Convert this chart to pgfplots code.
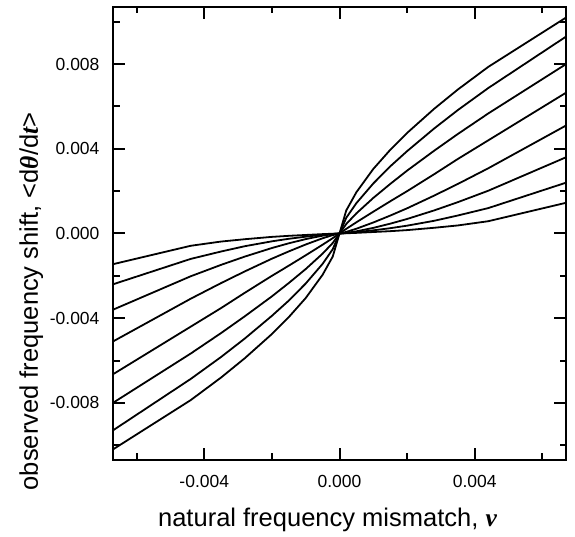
\documentclass[border=0pt]{standalone}
\usepackage{pgfplots}
\usepackage{pgfplotstable}
\pgfplotsset{compat=1.18}
\usepackage{fontspec}
\setmainfont{Liberation Sans}
\newfontfamily\seriffont{Liberation Serif}
\newcommand{\sbi}[1]{{\seriffont\bfseries\itshape #1}}

\pgfplotstableread{
x        y1        y2        y3        y4        y5         y6         y7        y8
-0.0067  -0.0102   -0.0093   -0.0080   -0.00665  -0.0051    -0.0036    -0.0024   -0.00145
-0.0044  -0.00787  -0.00687  -0.00567  -0.0044   -0.00308   -0.00202   -0.0012   -0.00058
-0.0035  -0.0068   -0.00583  -0.0047   -0.00352  -0.00234   -0.00148   -0.00085  -0.00038
-0.0028  -0.00589  -0.00496  -0.00391  -0.0028   -0.00179   -0.00109   -0.0006   -0.00027
-0.0020  -0.00475  -0.00389  -0.00297  -0.0020   -0.00119   -0.000686  -0.00037  -0.00016
-0.0015  -0.00395  -0.00317  -0.00234  -0.00152  -0.000846  -0.000463  -0.00025  -0.00011
-0.0010  -0.00305  -0.002364 -0.00168  -0.00103  -0.00052   -0.000265  -0.00015  -0.00007
-0.0005  -0.00195  -0.001435 -0.000952 -0.00053  -0.000226  -0.000103  -0.00006  -0.00003
-0.0002  -0.00109  -0.000742 -0.000449 -0.00022  -0.000075  -0.000029  -0.00002  -0.00001
0        0         0         0         0         0          0          0         0
0.0002   0.00109   0.000742  0.000449  0.00022   0.000075   0.000029   0.00002   0.00001
0.0005   0.00195   0.001435  0.000952  0.00053   0.000226   0.000103   0.00006   0.00003
0.0010   0.00305   0.002364  0.00168   0.00103   0.00052    0.000265   0.00015   0.00007
0.0015   0.00395   0.00317   0.00234   0.00152   0.000846   0.000463   0.00025   0.00011
0.0020   0.00475   0.00389   0.00297   0.0020    0.00119    0.000686   0.00037   0.00016
0.0028   0.00589   0.00496   0.00391   0.0028    0.00179    0.00109    0.0006    0.00027
0.0035   0.0068    0.00583   0.0047    0.00352   0.00234    0.00148    0.00085   0.00038
0.0044   0.00787   0.00687   0.00567   0.0044    0.00308    0.00202    0.0012    0.00058
0.0067   0.0102    0.0093    0.0080    0.00665   0.0051     0.0036     0.0024    0.00145
}\curves

\begin{document}
\begin{tikzpicture}[x=1pt,y=1pt]
\path (0,0) rectangle (575,537);
\begin{axis}[
  at={(113pt,77pt)}, anchor=south west,
  scale only axis, width=453pt, height=453pt,
  xmin=-0.0067, xmax=0.0067, ymin=-0.0107, ymax=0.0107,
  xtick={-0.004,0,0.004}, minor xtick={-0.006,-0.002,0.002,0.006},
  ytick={-0.008,-0.004,0,0.004,0.008},
  minor ytick={-0.010,-0.006,-0.002,0.002,0.006,0.010},
  xticklabels={-0.004,0.000,0.004},
  yticklabels={-0.008,-0.004,0.000,0.004,0.008},
  scaled ticks=false,
  tick align=inside,
  major tick length=12pt, minor tick length=6.5pt,
  every tick/.style={line width=2pt, black},
  axis line style={line width=2.5pt},
  ticklabel style={font=\fontsize{17.5}{20}\selectfont},
  xticklabel style={yshift=-12pt},
  yticklabel style={xshift=-10pt},
  xlabel={natural frequency mismatch, \sbi{ν}},
  ylabel={observed frequency shift, <d\sbi{θ}/d\sbi{t}>},
  label style={font=\fontsize{25.5}{30}\selectfont},
  xlabel style={at={(axis description cs:0.4735,-0.1457)}, anchor=base},
  ylabel style={at={(axis description cs:-0.1656,0.35)}, anchor=base},
]
\addplot[black, line width=1.8pt, no marks] table[x=x, y=y1] {\curves};
\addplot[black, line width=1.8pt, no marks] table[x=x, y=y2] {\curves};
\addplot[black, line width=1.8pt, no marks] table[x=x, y=y3] {\curves};
\addplot[black, line width=1.8pt, no marks] table[x=x, y=y4] {\curves};
\addplot[black, line width=1.8pt, no marks] table[x=x, y=y5] {\curves};
\addplot[black, line width=1.8pt, no marks] table[x=x, y=y6] {\curves};
\addplot[black, line width=1.8pt, no marks] table[x=x, y=y7] {\curves};
\addplot[black, line width=1.8pt, no marks] table[x=x, y=y8] {\curves};
\end{axis}
\end{tikzpicture}
\end{document}
